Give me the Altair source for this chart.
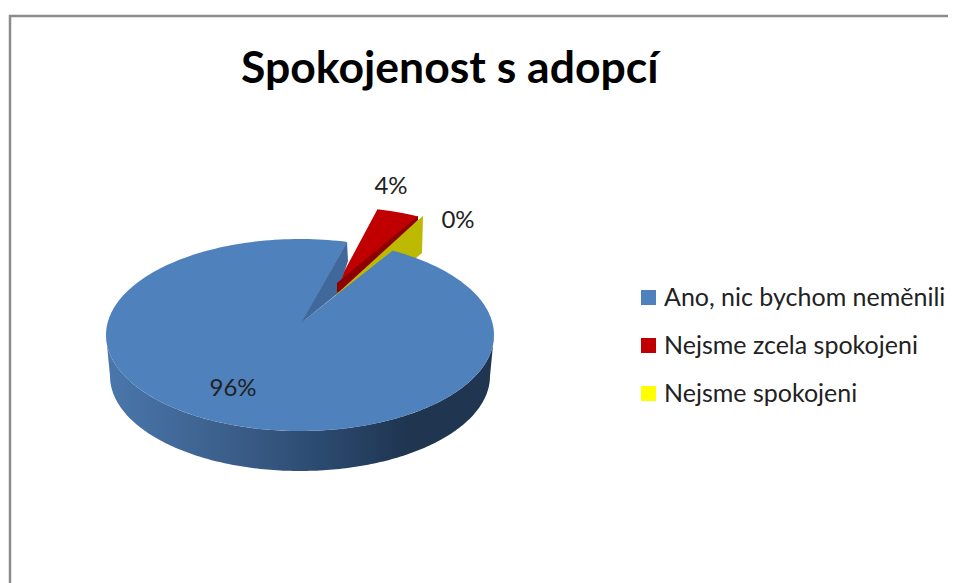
import numpy as np
import pandas as pd
import altair as alt

names = ["Ano, nic bychom neměnili", "Nejsme zcela spokojeni", "Nejsme spokojeni"]
values = [96, 4, 0]
colors = ["#4F81BD", "#C00000", "#FFFF00"]
label_x = [233, 391, 458]
label_y = [389, 187, 221]

W, H = 940, 575
X_DOM = [8, 948]
Y_DOM = [583, 8]
xs = alt.Scale(domain=X_DOM, nice=False, zero=False)
ys = alt.Scale(domain=Y_DOM, nice=False, zero=False)


def sector(name, value, apex, centre, a, b, start):
    sweep = 360 * value / 100
    th = np.radians(np.linspace(start, start + sweep, 241))
    px = [apex[0]] + list(centre[0] + a * np.sin(th)) + [apex[0]]
    py = [apex[1]] + list(centre[1] - b * np.cos(th)) + [apex[1]]
    return pd.DataFrame({"name": name, "i": range(len(px)), "px": px, "py": py})


def poly(points):
    return pd.DataFrame({"i": range(len(points) + 1),
                         "px": [p[0] for p in points] + [points[0][0]],
                         "py": [p[1] for p in points] + [points[0][1]]})


def shape(df, fill, **kw):
    return alt.Chart(df).mark_line(fill=fill, strokeWidth=0, interpolate="linear", **kw).encode(
        x=alt.X("px:Q", scale=xs, axis=None),
        y=alt.Y("py:Q", scale=ys, axis=None),
        order="i:Q",
    )


tops = pd.concat([
    sector(names[0], values[0], (302, 322), (300, 335), 194, 96, 28.5),
    sector(names[1], values[1], (338, 283), (336, 288), 175, 81, 13.7),
    sector(names[2], values[2], (342, 284), (336, 288), 175, 81, 28.5),
])

# side wall of the disc, lower half
t = np.radians(np.linspace(90, 270, 181))
side_x = list(300 + 190 * np.sin(t)) + list(300 + 194 * np.sin(t[::-1]))
side_y = list(376 - 95 * np.cos(t)) + list(335 - 96 * np.cos(t[::-1]))
side = pd.DataFrame({"i": range(len(side_x)), "px": side_x, "py": side_y})
side_fill = alt.Gradient(
    gradient="linear", x1=0, x2=1, y1=0, y2=0,
    stops=[alt.GradientStop(color="#4A77AD", offset=0),
           alt.GradientStop(color="#3C608C", offset=0.3),
           alt.GradientStop(color="#2C4A70", offset=0.55),
           alt.GradientStop(color="#1F3550", offset=0.78),
           alt.GradientStop(color="#1F3550", offset=1)],
)

top_layer = alt.Chart(tops).mark_line(strokeWidth=0, interpolate="linear").encode(
    x=alt.X("px:Q", scale=xs, axis=None),
    y=alt.Y("py:Q", scale=ys, axis=None),
    order="i:Q",
    fill=alt.Fill(
        "name:N",
        scale=alt.Scale(domain=names, range=colors),
        sort=names,
        legend=alt.Legend(
            orient="none", legendX=628, legendY=277, title=None,
            symbolType="square", symbolSize=225, symbolStrokeWidth=0,
            labelFont="Lato", labelFontSize=25, labelColor="#222222",
            rowPadding=22, labelOffset=3, labelLimit=320,
        ),
    ),
)

frame_top = alt.Chart(pd.DataFrame({"a": [9], "b": [948], "c": [16]})).mark_rule(
    color="#8C8C8C", strokeWidth=2.5).encode(
    x=alt.X("a:Q", scale=xs, axis=None), x2="b:Q", y=alt.Y("c:Q", scale=ys, axis=None))
frame_left = alt.Chart(pd.DataFrame({"a": [10], "c": [15], "d": [583]})).mark_rule(
    color="#8C8C8C", strokeWidth=2.5).encode(
    x=alt.X("a:Q", scale=xs, axis=None), y=alt.Y("c:Q", scale=ys, axis=None), y2="d:Q")

labels = alt.Chart(pd.DataFrame({
    "t": [f"{v}%" for v in values], "lx": label_x, "ly": label_y
})).mark_text(font="Lato", fontSize=24, color="#222222", align="center", baseline="middle").encode(
    x=alt.X("lx:Q", scale=xs, axis=None),
    y=alt.Y("ly:Q", scale=ys, axis=None),
    text="t:N",
)

chart = alt.layer(
    frame_top, frame_left,
    shape(side, side_fill),
    shape(poly([(336, 296), (338, 287), (423, 216), (422, 253), (416, 258), (400, 270)]), "#BDB800"),
    top_layer,
    shape(poly([(347, 242), (348, 261), (337, 294), (301, 323)]), "#41689A"),
    shape(poly([(418, 216), (418, 220), (340, 291), (337, 293), (337, 283)]), "#8E0000"),
    labels,
).properties(
    width=W, height=H, padding=0,
    autosize=alt.AutoSizeParams(type="none"),
    title=alt.TitleParams(
        "Spokojenost s adopcí", anchor="start", frame="group", dx=233, offset=-84,
        font="Lato", fontSize=44.5, fontWeight="bold", color="#000000",
    ),
    background="white",
).configure_view(stroke=None)

chart.save("out.html", embed_options={"renderer": "svg", "actions": False})
